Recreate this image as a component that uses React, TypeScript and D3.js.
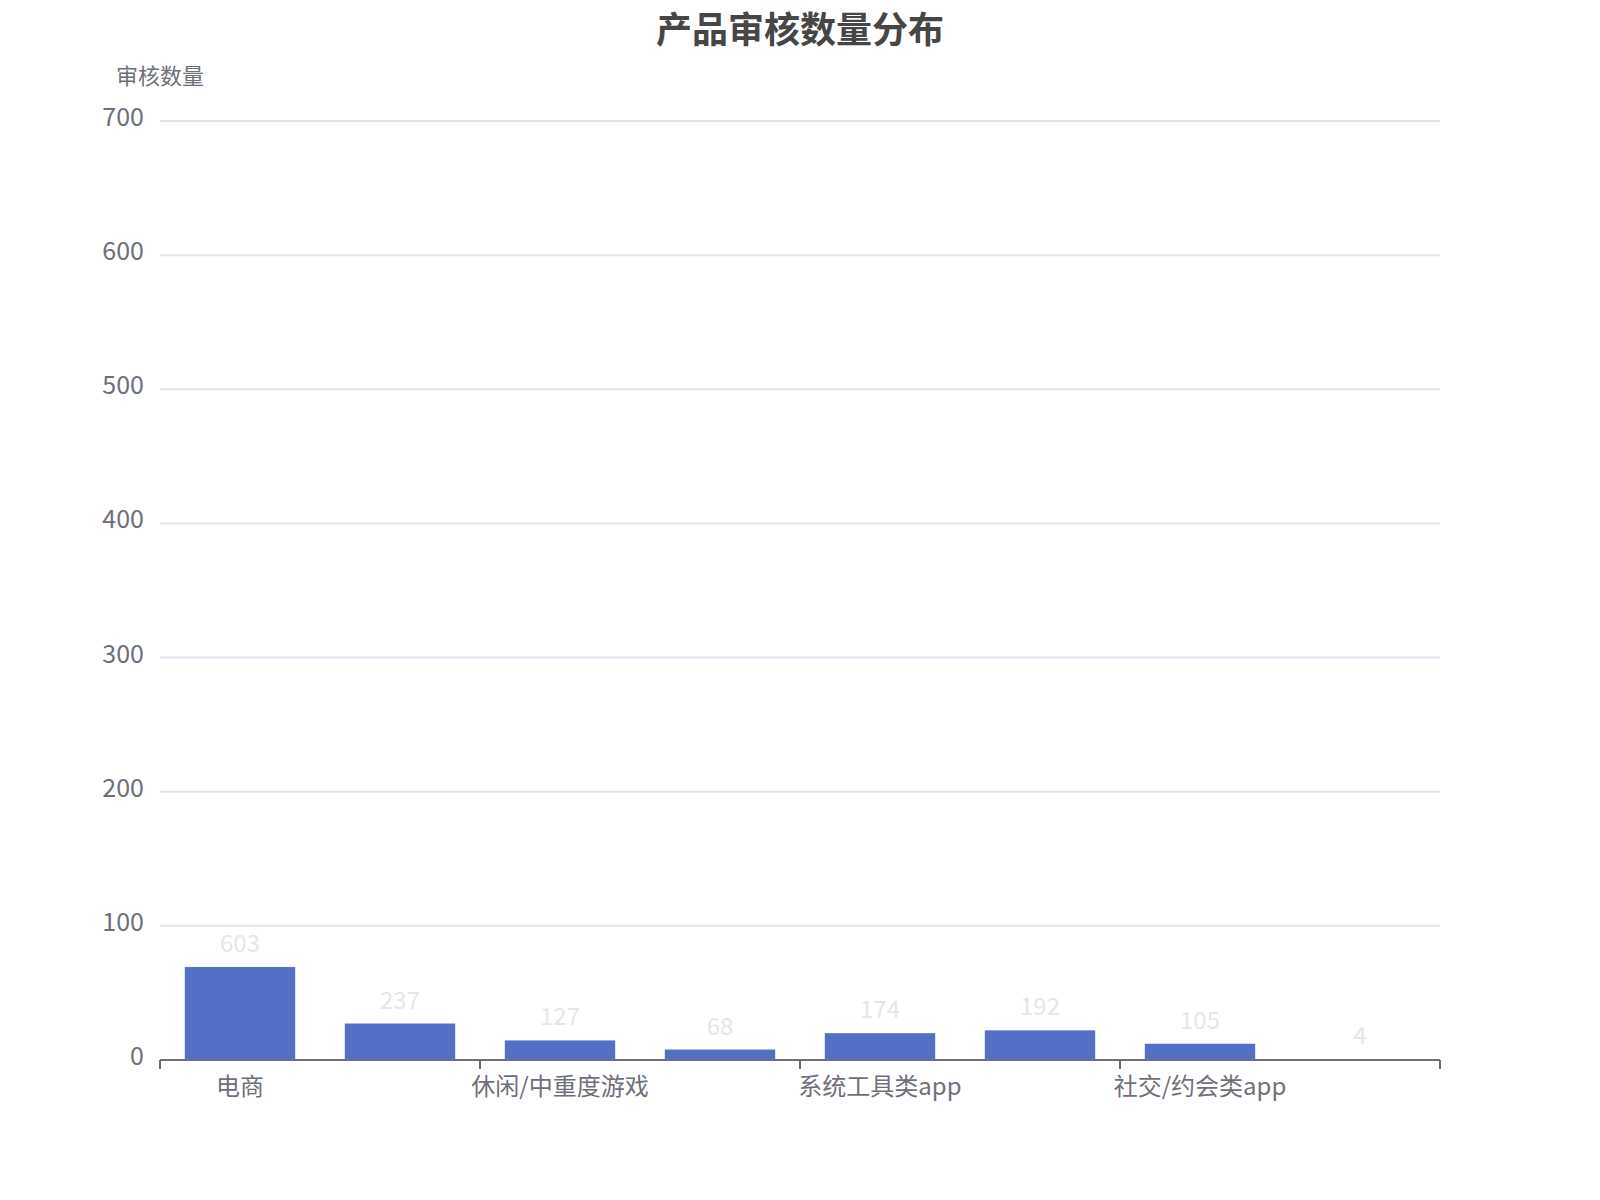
import * as d3 from 'd3';

// categories (odd ones are hidden on the axis in the original, interval = 1)
const categories = ['电商', '金融理财', '休闲/中重度游戏', '教育', '系统工具类app', '生活服务', '社交/约会类app', '其他'];
// bar heights as drawn
const barValues = [69.3, 27.2, 14.6, 7.8, 20.0, 22.1, 12.1, 0.6];
// numbers printed above the bars
const barLabels = [603, 237, 127, 68, 174, 192, 105, 4];
const yTicks = [0, 100, 200, 300, 400, 500, 600, 700];

const W = 1600;
const H = 1200;
const FONT = '"Noto Sans CJK SC", "Noto Sans", sans-serif';

export default function App() {
  const left = 160;
  const right = 1440;
  const top = 121;
  const bottom = 1060;

  const x = d3.scaleBand<string>().domain(categories).range([left, right]).padding(0);
  const y = d3.scaleLinear().domain([0, 700]).range([bottom, top]);
  const barW = x.step() * 0.69;
  const step = x.step();

  return (
    <svg width={W} height={H} style={{ position: 'absolute', left: 0, top: 0, background: '#fff' }}>
      <text x={800} y={43} textAnchor="middle" fontFamily={FONT} fontWeight="bold" fontSize={36} fill="#464646">
        产品审核数量分布
      </text>

      {/* y axis name */}
      <text x={left} y={84} textAnchor="middle" fontFamily={FONT} fontSize={22} fill="#6E7079">
        审核数量
      </text>

      {/* grid + y labels */}
      {yTicks.map((t) => (
        <g key={t}>
          {t > 0 && <line x1={left} x2={right} y1={y(t)} y2={y(t)} stroke="#E0E6F1" strokeWidth={2} />}
          <text x={144} y={y(t) + 5} textAnchor="end" fontFamily={FONT} fontSize={25} fill="#6E7079">
            {t}
          </text>
        </g>
      ))}

      {/* bars */}
      {categories.map((c, i) => {
        const cx = (x(c) ?? 0) + step / 2;
        return (
          <g key={c}>
            <rect x={cx - barW / 2} y={y(barValues[i])} width={barW} height={bottom - y(barValues[i])} fill="#5470C6" />
            <text x={cx} y={y(barValues[i]) - 15} textAnchor="middle" fontFamily={FONT} fontSize={24} fill="#E6E6E6">
              {barLabels[i]}
            </text>
          </g>
        );
      })}

      {/* x axis */}
      <line x1={left} x2={right} y1={bottom} y2={bottom} stroke="#6E7079" strokeWidth={2} />
      {categories.map((c, i) =>
        i % 2 === 0 ? (
          <g key={c}>
            <line x1={x(c)} x2={x(c)} y1={bottom} y2={bottom + 9} stroke="#6E7079" strokeWidth={2} />
            <text x={(x(c) ?? 0) + step / 2} y={bottom + 35} textAnchor="middle" fontFamily={FONT} fontSize={24} fill="#6E7079">
              {c}
            </text>
          </g>
        ) : null
      )}
      <line x1={right} x2={right} y1={bottom} y2={bottom + 9} stroke="#6E7079" strokeWidth={2} />
    </svg>
  );
}
